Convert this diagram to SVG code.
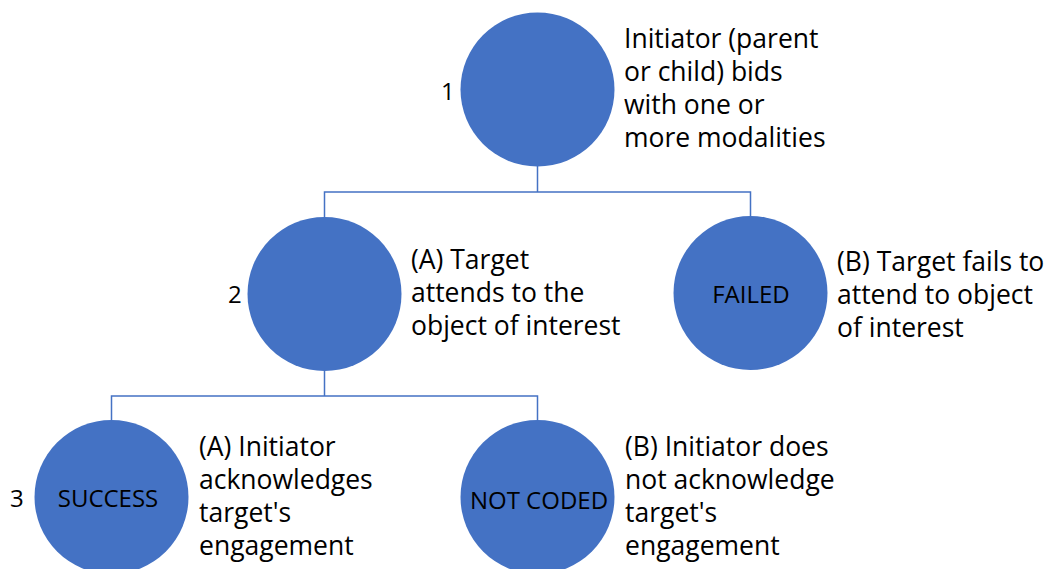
<svg xmlns="http://www.w3.org/2000/svg" width="1049" height="569" viewBox="0 0 1049 569">
<style>
.node{fill:#4472C4;}
.t{font-family:"Open Sans","Liberation Sans",sans-serif;font-size:24px;fill:#000;font-variant-ligatures:none;}
.s{font-size:26.5px;}
.c{text-anchor:middle;}
.conn{fill:none;stroke:#4472C4;stroke-width:1.5;}
</style>
<rect width="1049" height="569" fill="#fff"/>
<g id="connectors">
<path class="conn" d="M537.5,166 V192 M324.5,217 V192 H750.5 V216"/>
<path class="conn" d="M324.5,371 V396 M111.5,420 V396 H537.5 V420"/>
</g>
<g id="node1">
<circle class="node" cx="537.5" cy="89.5" r="77"/>
<text class="t" x="441" y="100">1</text>
<text class="t s"><tspan x="624" y="48">Initiator (parent</tspan><tspan x="624" y="81">or child) bids</tspan><tspan x="624" y="114">with one or</tspan><tspan x="624" y="147">more modalities</tspan></text>
</g>
<g id="node2">
<circle class="node" cx="324.5" cy="294" r="77"/>
<text class="t" x="228" y="303">2</text>
<text class="t s"><tspan x="411" y="269">(A) Target</tspan><tspan x="411" y="302">attends to the</tspan><tspan x="411" y="335">object of interest</tspan></text>
</g>
<g id="node-failed">
<circle class="node" cx="750.5" cy="293" r="77"/>
<text class="t c" x="751" y="303">FAILED</text>
<text class="t s"><tspan x="837" y="271">(B) Target fails to</tspan><tspan x="837" y="304">attend to object</tspan><tspan x="837" y="337">of interest</tspan></text>
</g>
<g id="node-success">
<circle class="node" cx="111.5" cy="497" r="77"/>
<text class="t" x="10" y="507">3</text>
<text class="t c" x="108" y="507">SUCCESS</text>
<text class="t s"><tspan x="199" y="456">(A) Initiator</tspan><tspan x="199" y="489">acknowledges</tspan><tspan x="199" y="522">target's</tspan><tspan x="199" y="555">engagement</tspan></text>
</g>
<g id="node-notcoded">
<circle class="node" cx="537.5" cy="497" r="77"/>
<text class="t c" x="539" y="509">NOT CODED</text>
<text class="t s"><tspan x="625" y="456">(B) Initiator does</tspan><tspan x="625" y="489">not acknowledge</tspan><tspan x="625" y="522">target's</tspan><tspan x="625" y="555">engagement</tspan></text>
</g>
</svg>
